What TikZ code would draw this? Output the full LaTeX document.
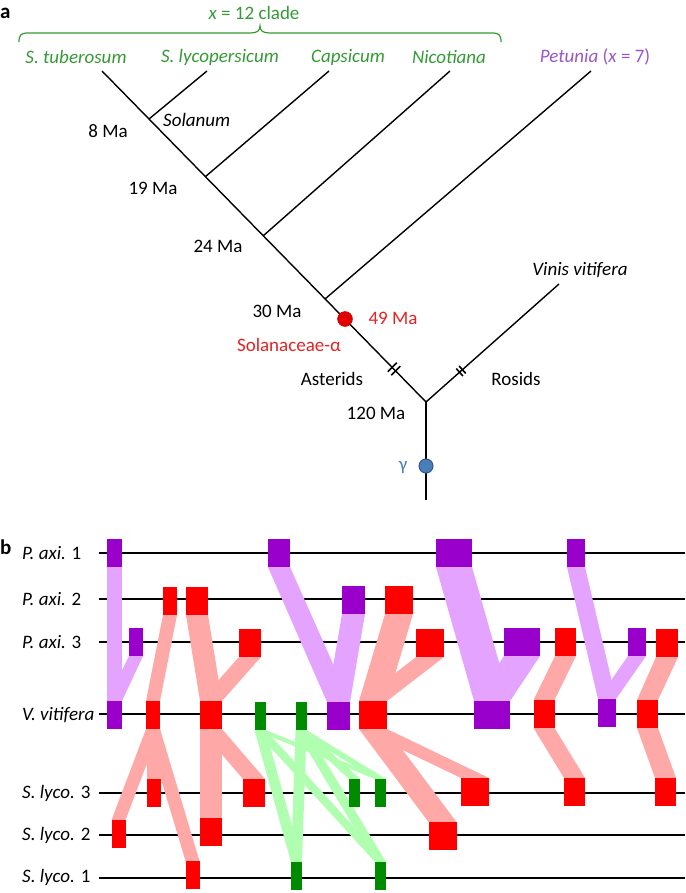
\documentclass[tikz,border=0pt]{standalone}
\usepackage{fontspec}
\setmainfont{Carlito}
\usetikzlibrary{calc,backgrounds}
\definecolor{cladegreen}{HTML}{359A35}
\definecolor{petpurple}{HTML}{9955CC}
\definecolor{alphared}{HTML}{E52222}
\definecolor{gammablue}{HTML}{4A7EBB}
\definecolor{pblock}{HTML}{9900CC}
\definecolor{pband}{HTML}{E3A3FF}
\definecolor{rblock}{HTML}{FF0000}
\definecolor{rband}{HTML}{FFA8A8}
\definecolor{gblock}{HTML}{008A00}
\definecolor{gband}{HTML}{B0FFB0}
\tikzset{
  txt/.style={font=\fontsize{19}{22}\selectfont, inner sep=0pt},
  panel/.style={font=\fontsize{21}{24}\selectfont\bfseries, inner sep=0pt, anchor=west},
  branch/.style={line width=1.4pt},
  hashmark/.style={line width=1.6pt},
  row/.style={line width=2pt},
  blk/.style={rectangle, inner sep=0pt, outer sep=0pt, minimum height=28pt, minimum width=#1},
  pblk/.style={blk=#1, fill=pblock},
  rblk/.style={blk=#1, fill=rblock},
  gblk/.style={blk=#1, fill=gblock},
}
\newcommand{\band}[3]{\fill[#1] (#2.south west) -- (#2.south east) -- (#3.north east) -- (#3.north west) -- cycle;}
\begin{document}
\begin{tikzpicture}[x=1pt,y=-1pt]
\useasboundingbox (0,0) rectangle (685,893);
% panel a
\node[panel] (a) at (0,13) {a};
\node[txt, cladegreen] (clade) at (254,13) {\textit{x} = 12 clade};
\draw[cladegreen, line width=1.2pt] (19,42) .. controls (19,35) and (21,33) .. (28,33) -- (250,33) .. controls (257,33) and (260,31) .. (260,26) .. controls (260,31) and (263,33) .. (270,33) -- (492,33) .. controls (499,33) and (501,35) .. (501,42);
\node[txt, cladegreen] (tub-l) at (76,57) {\textit{S. tuberosum}};
\node[txt, cladegreen] (sly-l) at (220,57) {\textit{S. lycopersicum}};
\node[txt, cladegreen] (cap-l) at (348,57) {\textit{Capsicum}};
\node[txt, cladegreen] (nic-l) at (449,57) {\textit{Nicotiana}};
\node[txt, petpurple] (pet-l) at (595,57) {\textit{Petunia} (\textit{x} = 7)};
\node[txt] (vit-l) at (580,270) {\textit{Vinis vitifera}};
\coordinate (tub) at (102,71);
\coordinate (sly) at (207,71);
\coordinate (cap) at (329,71);
\coordinate (nic) at (450,71);
\coordinate (pet) at (591,71);
\coordinate (vit) at (559,284);
\coordinate (n8) at (149,119);
\coordinate (n19) at (205,177);
\coordinate (n24) at (263,236);
\coordinate (n30) at (325,299);
\coordinate (root) at (426,402);
\coordinate (base) at (426,500);
\coordinate (ahash) at (394,369);
\coordinate (rhash) at (461,371);
\draw[branch] (tub) -- (root) -- (vit);
\draw[branch] (root) -- (base);
\draw[branch] (sly) -- (n8);
\draw[branch] (cap) -- (n19);
\draw[branch] (nic) -- (n24);
\draw[branch] (pet) -- (n30);
\draw[hashmark] ($(ahash)+(-6.3,2.7)$) -- ++(9,-9);
\draw[hashmark] ($(ahash)+(-2.7,6.3)$) -- ++(9,-9);
\draw[hashmark] ($(rhash)+(-4.7,-2.4)$) -- ++(6.6,7.4);
\draw[hashmark] ($(rhash)+(-1.9,-5)$) -- ++(6.6,7.4);
\node[circle, inner sep=0pt, minimum size=15pt, fill=red!90!black, draw=red!70!black] (alpha) at (345,319) {};
\node[circle, inner sep=0pt, minimum size=14pt, fill=gammablue, draw=gammablue!70!black, line width=1pt] (gamma) at (426,466) {};
\node[txt] (sol-l) at (163,120) [anchor=west] {\textit{Solanum}};
\node[txt] (t8) at (108,131) {8 Ma};
\node[txt] (t19) at (153,188) {19 Ma};
\node[txt] (t24) at (218,246) {24 Ma};
\node[txt] (t30) at (277,311) {30 Ma};
\node[txt, alphared] (t49) at (393,318) {49 Ma};
\node[txt, alphared] (alpha-l) at (289,345) {Solanaceae-α};
\node[txt] (ast-l) at (332,379) {Asterids};
\node[txt] (ros-l) at (516,379) {Rosids};
\node[txt] (t120) at (376,413) {120 Ma};
\node[txt, gammablue] (gamma-l) at (403,467) {γ};
% panel b
\node[panel] (b) at (0,547) {b};
\node[txt, anchor=west] (pa1-l) at (22,553) {\textit{P. axi.} 1};
\node[txt, anchor=west] (pa2-l) at (22,599) {\textit{P. axi.} 2};
\node[txt, anchor=west] (pa3-l) at (22,642) {\textit{P. axi.} 3};
\node[txt, anchor=west] (vv-l) at (22,715) {\textit{V. vitifera}};
\node[txt, anchor=west] (sl3-l) at (22,793) {\textit{S. lyco.} 3};
\node[txt, anchor=west] (sl2-l) at (22,835) {\textit{S. lyco.} 2};
\node[txt, anchor=west] (sl1-l) at (22,877) {\textit{S. lyco.} 1};
\node[pblk=15pt] (pa1a) at (114.5,553) {};
\node[pblk=22pt] (pa1b) at (279,553) {};
\node[pblk=36pt] (pa1c) at (454,553) {};
\node[pblk=18pt] (pa1d) at (576,553) {};
\node[rblk=14pt] (pa2a) at (170,601) {};
\node[rblk=22pt] (pa2b) at (197,601) {};
\node[pblk=23pt] (pa2c) at (353.5,600) {};
\node[rblk=28pt] (pa2d) at (399,600) {};
\node[pblk=14pt] (pa3a) at (136,642) {};
\node[rblk=22pt] (pa3b) at (250,643) {};
\node[rblk=28pt] (pa3c) at (430,643) {};
\node[pblk=36pt] (pa3d) at (522,642) {};
\node[rblk=21pt] (pa3e) at (565.5,642) {};
\node[pblk=18pt] (pa3f) at (637,642) {};
\node[rblk=22pt] (pa3g) at (667,643) {};
\node[pblk=15pt] (vva) at (114.5,715) {};
\node[rblk=14pt] (vvb) at (153,715) {};
\node[rblk=22pt] (vvc) at (211,715) {};
\node[gblk=11pt] (vvd) at (260,716) {};
\node[gblk=11pt] (vve) at (301,716) {};
\node[pblk=23pt] (vvf) at (338.5,716) {};
\node[rblk=28pt] (vvg) at (373,715) {};
\node[pblk=36pt] (vvh) at (492,715) {};
\node[rblk=21pt] (vvi) at (544,714) {};
\node[pblk=18pt] (vvj) at (607,713) {};
\node[rblk=21pt] (vvk) at (647.5,714) {};
\node[rblk=14pt] (sl3a) at (154,793) {};
\node[rblk=22pt] (sl3b) at (254,793) {};
\node[gblk=11pt] (sl3c) at (354.5,793) {};
\node[gblk=11pt] (sl3d) at (380.5,793) {};
\node[rblk=28pt] (sl3e) at (475,792) {};
\node[rblk=21pt] (sl3f) at (574.5,792) {};
\node[rblk=21pt] (sl3g) at (665.5,792) {};
\node[rblk=14pt] (sl2a) at (118.5,834) {};
\node[rblk=22pt] (sl2b) at (211,832) {};
\node[rblk=28pt] (sl2c) at (442.5,836) {};
\node[rblk=14pt] (sl1a) at (192.5,875) {};
\node[gblk=11pt] (sl1b) at (296.5,876) {};
\node[gblk=11pt] (sl1c) at (380.5,876) {};
\begin{scope}[on background layer]
\draw[row] (99,553) -- (685,553);
\draw[row] (99,599) -- (685,599);
\draw[row] (99,642) -- (685,642);
\draw[row] (99,714) -- (685,714);
\draw[row] (99,793) -- (685,793);
\draw[row] (99,835) -- (685,835);
\draw[row] (99,878) -- (685,878);
\band{pband}{pa1a}{vva}
\band{pband}{pa3a}{vva}
\band{pband}{pa1b}{vvf}
\band{pband}{pa2c}{vvf}
\band{pband}{pa1c}{vvh}
\band{pband}{pa3d}{vvh}
\band{pband}{pa1d}{vvj}
\band{pband}{pa3f}{vvj}
\band{rband}{pa2a}{vvb}
\band{rband}{pa2b}{vvc}
\band{rband}{pa3b}{vvc}
\band{rband}{pa2d}{vvg}
\band{rband}{pa3c}{vvg}
\band{rband}{pa3e}{vvi}
\band{rband}{pa3g}{vvk}
\band{rband}{vvb}{sl3a}
\band{rband}{vvb}{sl2a}
\band{rband}{vvb}{sl1a}
\band{rband}{vvc}{sl2b}
\band{rband}{vvc}{sl3b}
\band{rband}{vvg}{sl3e}
\band{rband}{vvg}{sl2c}
\band{rband}{vvi}{sl3f}
\band{rband}{vvk}{sl3g}
\band{gband}{vvd}{sl1b}
\band{gband}{vvd}{sl3d}
\band{gband}{vvd}{sl1c}
\band{gband}{vve}{sl1b}
\band{gband}{vve}{sl3c}
\band{gband}{vve}{sl3d}
\band{gband}{vve}{sl1c}
\end{scope}
\end{tikzpicture}
\end{document}
